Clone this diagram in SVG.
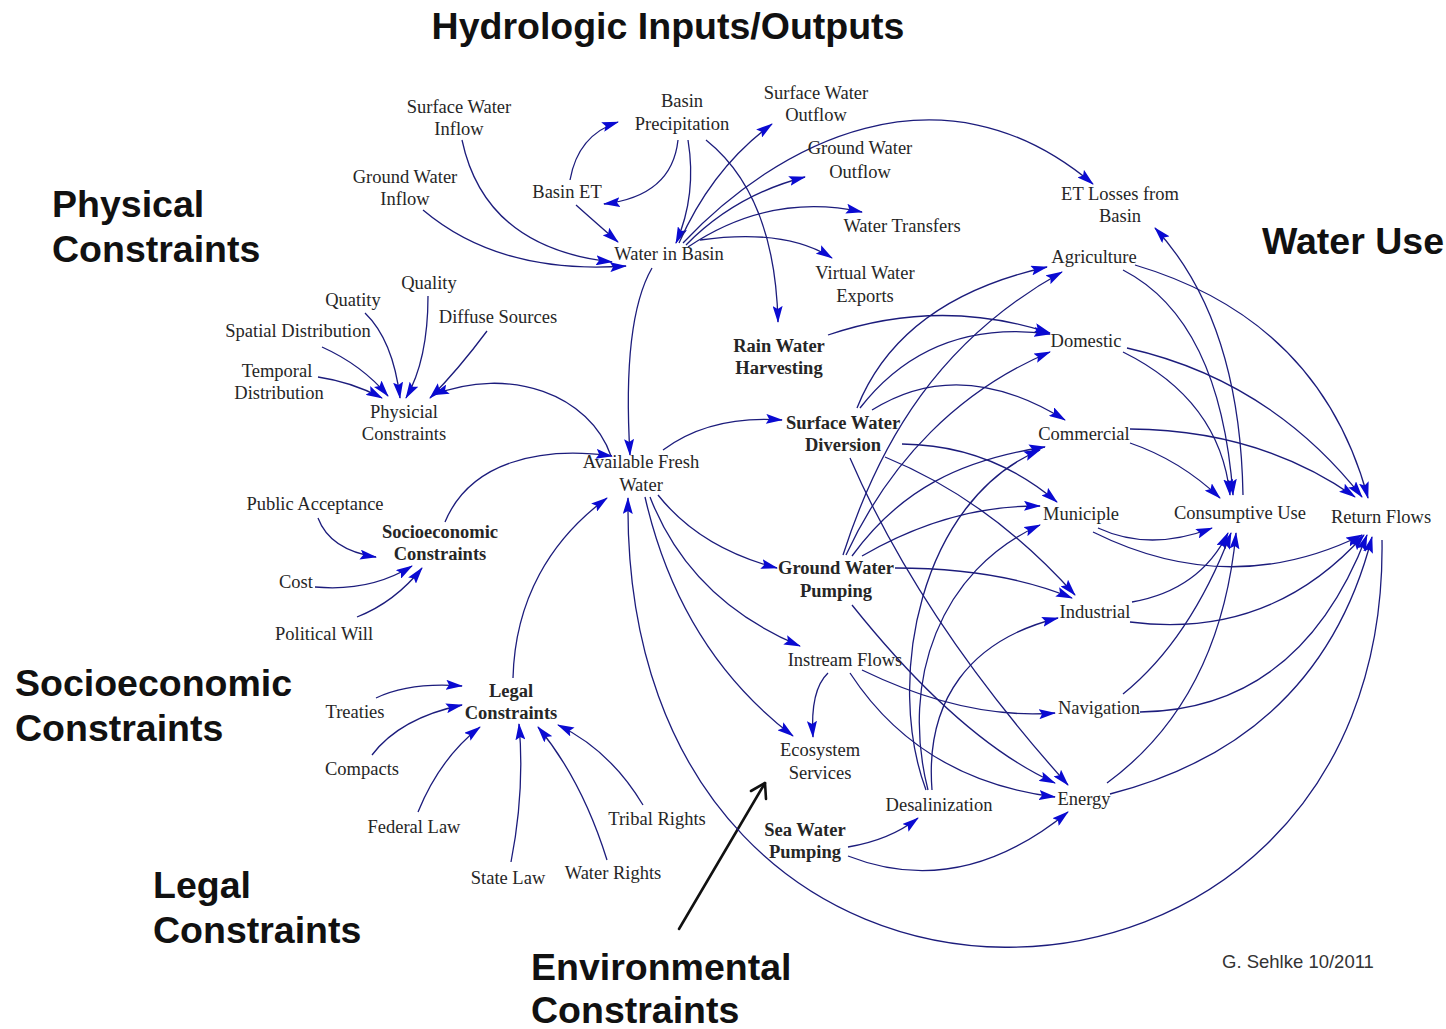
<svg xmlns="http://www.w3.org/2000/svg" width="1446" height="1029" viewBox="0 0 1446 1029">
  <style>
    .lbl { font-family: "Liberation Serif", "Times New Roman", serif; font-size: 18.5px; fill: #262626; text-anchor: middle; }
    .b { font-weight: bold; }
    .sec { font-family: "Liberation Sans", Arial, sans-serif; font-size: 37.5px; font-weight: bold; fill: #111; }
    .credit { font-family: "Liberation Sans", Arial, sans-serif; font-size: 18.5px; fill: #333; }
    .lk { fill: none; stroke: #1c1c7c; stroke-width: 1.3; marker-end: url(#ah); }
  </style>
  <defs>
    <marker id="ah" viewBox="0 0 17 10" refX="16" refY="5" markerWidth="17" markerHeight="10" markerUnits="userSpaceOnUse" orient="auto">
      <path d="M0,0 L17,5 L0,10 L3,5 z" fill="#0a0ad2"/>
    </marker>
  </defs>
  <rect width="1446" height="1029" fill="#ffffff"/>

  <!-- section headings -->
  <g id="headings">
    <text class="sec" x="668" y="39" text-anchor="middle">Hydrologic Inputs/Outputs</text>
    <text class="sec" x="52" y="217">Physical</text>
    <text class="sec" x="52" y="262">Constraints</text>
    <text class="sec" x="1262" y="254">Water Use</text>
    <text class="sec" x="15" y="696">Socioeconomic</text>
    <text class="sec" x="15" y="741">Constraints</text>
    <text class="sec" x="153" y="898">Legal</text>
    <text class="sec" x="153" y="943">Constraints</text>
    <text class="sec" x="531" y="980">Environmental</text>
    <text class="sec" x="531" y="1023">Constraints</text>
    <text class="credit" x="1222" y="968">G. Sehlke 10/2011</text>
  </g>

  <!-- pointer to the environmental nodes -->
  <g id="env-pointer" stroke="#111" stroke-width="2.6" fill="none" stroke-linecap="round" stroke-linejoin="round">
    <line x1="679" y1="929" x2="765" y2="783"/>
    <polyline points="751,791 765,783 766,799"/>
  </g>

  <g id="connectors">
    <!-- hydrologic inputs / outputs -->
    <path class="lk" d="M462,140 Q485,248 612,262"/>
    <path class="lk" d="M423,210 Q500,275 626,266"/>
    <path class="lk" d="M570,180 Q578,135 618,122"/>
    <path class="lk" d="M678,140 Q672,196 604,204"/>
    <path class="lk" d="M576,205 Q595,222 618,242"/>
    <path class="lk" d="M688,140 Q697,195 676,243"/>
    <path class="lk" d="M706,140 Q775,195 778,322"/>
    <path class="lk" d="M679,243 Q712,168 772,124"/>
    <path class="lk" d="M683,243 C775,145 940,55 1093,184"/>
    <path class="lk" d="M686,245 Q735,195 805,177"/>
    <path class="lk" d="M688,247 Q770,192 862,212"/>
    <path class="lk" d="M700,240 Q785,228 832,258"/>
    <path class="lk" d="M652,268 Q622,320 630,455"/>
    <!-- physical constraints -->
    <path class="lk" d="M365,313 Q393,340 400,398"/>
    <path class="lk" d="M428,296 Q428,360 406,398"/>
    <path class="lk" d="M322,347 Q362,365 388,396"/>
    <path class="lk" d="M318,377 Q352,382 382,398"/>
    <path class="lk" d="M487,331 Q458,370 430,398"/>
    <path class="lk" d="M611,456 C590,395 510,365 433,395"/>
    <!-- socioeconomic constraints -->
    <path class="lk" d="M445,522 C470,462 540,446 612,456"/>
    <path class="lk" d="M318,518 Q330,550 376,557"/>
    <path class="lk" d="M315,587 Q370,592 412,566"/>
    <path class="lk" d="M357,617 Q395,602 422,568"/>
    <!-- legal constraints -->
    <path class="lk" d="M513,678 C515,600 550,540 607,498"/>
    <path class="lk" d="M376,698 Q410,682 462,686"/>
    <path class="lk" d="M372,755 Q400,718 462,705"/>
    <path class="lk" d="M418,812 Q440,758 480,727"/>
    <path class="lk" d="M511,862 Q525,790 519,724"/>
    <path class="lk" d="M607,860 Q582,780 538,727"/>
    <path class="lk" d="M643,805 Q610,750 558,725"/>
    <!-- available fresh water -->
    <path class="lk" d="M663,450 Q710,415 782,420"/>
    <path class="lk" d="M658,495 Q700,548 777,568"/>
    <path class="lk" d="M650,497 Q690,600 800,646"/>
    <path class="lk" d="M645,497 Q680,650 793,736"/>
    <path class="lk" d="M1382,540 C1390,1075 620,1105 628,498"/>
    <!-- rain water harvesting -->
    <path class="lk" d="M828,335 Q940,297 1050,333"/>
    <!-- surface water diversion -->
    <path class="lk" d="M857,408 Q900,300 1047,267"/>
    <path class="lk" d="M860,408 Q930,318 1050,334"/>
    <path class="lk" d="M872,410 Q960,355 1065,420"/>
    <path class="lk" d="M902,444 Q990,445 1057,502"/>
    <path class="lk" d="M885,457 Q990,500 1075,595"/>
    <path class="lk" d="M850,458 Q920,620 1068,785"/>
    <!-- ground water pumping -->
    <path class="lk" d="M843,555 C880,440 940,340 1062,272"/>
    <path class="lk" d="M846,555 C890,460 960,390 1050,352"/>
    <path class="lk" d="M852,556 C900,490 960,460 1045,447"/>
    <path class="lk" d="M862,556 Q950,505 1040,506"/>
    <path class="lk" d="M895,568 Q1000,568 1072,598"/>
    <path class="lk" d="M852,605 Q960,740 1055,783"/>
    <!-- desalinization -->
    <path class="lk" d="M926,790 C885,680 920,500 1040,450"/>
    <path class="lk" d="M928,790 C900,680 940,570 1040,525"/>
    <path class="lk" d="M932,790 C925,700 970,640 1058,618"/>
    <!-- instream flows -->
    <path class="lk" d="M828,673 Q810,690 813,737"/>
    <path class="lk" d="M862,670 Q965,720 1055,713"/>
    <path class="lk" d="M850,673 Q920,780 1055,797"/>
    <!-- sea water pumping -->
    <path class="lk" d="M848,847 Q890,840 918,818"/>
    <path class="lk" d="M848,856 Q960,900 1068,812"/>
    <!-- water uses to consumptive use / return flows -->
    <path class="lk" d="M1123,270 Q1220,320 1233,495"/>
    <path class="lk" d="M1135,265 Q1320,320 1368,498"/>
    <path class="lk" d="M1123,352 Q1220,400 1230,495"/>
    <path class="lk" d="M1127,348 Q1270,380 1362,497"/>
    <path class="lk" d="M1130,443 Q1180,460 1220,498"/>
    <path class="lk" d="M1130,429 Q1260,430 1355,497"/>
    <path class="lk" d="M1243,495 Q1240,320 1155,228"/>
    <path class="lk" d="M1098,528 Q1150,552 1212,528"/>
    <path class="lk" d="M1093,532 Q1230,600 1362,535"/>
    <path class="lk" d="M1132,602 Q1200,590 1228,533"/>
    <path class="lk" d="M1130,622 Q1270,640 1364,535"/>
    <path class="lk" d="M1123,694 Q1190,640 1231,533"/>
    <path class="lk" d="M1140,712 Q1300,710 1367,535"/>
    <path class="lk" d="M1107,783 Q1220,700 1236,533"/>
    <path class="lk" d="M1110,794 Q1320,740 1372,537"/>
  </g>

  <!-- hydrologic nodes -->
  <g id="n-sw-inflow"><text class="lbl" x="459" y="113">Surface Water</text><text class="lbl" x="459" y="135">Inflow</text></g>
  <g id="n-basin-precip"><text class="lbl" x="682" y="107">Basin</text><text class="lbl" x="682" y="130">Precipitation</text></g>
  <g id="n-sw-outflow"><text class="lbl" x="816" y="99">Surface Water</text><text class="lbl" x="816" y="121">Outflow</text></g>
  <g id="n-gw-outflow"><text class="lbl" x="860" y="154">Ground Water</text><text class="lbl" x="860" y="178">Outflow</text></g>
  <g id="n-gw-inflow"><text class="lbl" x="405" y="183">Ground Water</text><text class="lbl" x="405" y="205">Inflow</text></g>
  <g id="n-basin-et"><text class="lbl" x="567" y="198">Basin ET</text></g>
  <g id="n-et-losses"><text class="lbl" x="1120" y="200">ET Losses from</text><text class="lbl" x="1120" y="222">Basin</text></g>
  <g id="n-water-transfers"><text class="lbl" x="902" y="232">Water Transfers</text></g>
  <g id="n-water-in-basin"><text class="lbl" x="669" y="260">Water in Basin</text></g>
  <g id="n-virtual-water"><text class="lbl" x="865" y="279">Virtual Water</text><text class="lbl" x="865" y="302">Exports</text></g>

  <!-- physical constraint nodes -->
  <g id="n-quality"><text class="lbl" x="429" y="289">Quality</text></g>
  <g id="n-quatity"><text class="lbl" x="353" y="306">Quatity</text></g>
  <g id="n-diffuse"><text class="lbl" x="498" y="323">Diffuse Sources</text></g>
  <g id="n-spatial"><text class="lbl" x="298" y="337">Spatial Distribution</text></g>
  <g id="n-temporal"><text class="lbl" x="277" y="377">Temporal</text><text class="lbl" x="279" y="399">Distribution</text></g>
  <g id="n-physicial"><text class="lbl" x="404" y="418">Physicial</text><text class="lbl" x="404" y="440">Constraints</text></g>

  <!-- supply nodes -->
  <g id="n-rwh"><text class="lbl b" x="779" y="352">Rain Water</text><text class="lbl b" x="779" y="374">Harvesting</text></g>
  <g id="n-swd"><text class="lbl b" x="843" y="429">Surface Water</text><text class="lbl b" x="843" y="451">Diversion</text></g>
  <g id="n-afw"><text class="lbl" x="641" y="468">Available Fresh</text><text class="lbl" x="641" y="491">Water</text></g>
  <g id="n-gwp"><text class="lbl b" x="836" y="574">Ground Water</text><text class="lbl b" x="836" y="597">Pumping</text></g>
  <g id="n-instream"><text class="lbl" x="845" y="666">Instream Flows</text></g>
  <g id="n-ecosystem"><text class="lbl" x="820" y="756">Ecosystem</text><text class="lbl" x="820" y="779">Services</text></g>
  <g id="n-desal"><text class="lbl" x="939" y="811">Desalinization</text></g>
  <g id="n-swp"><text class="lbl b" x="805" y="836">Sea Water</text><text class="lbl b" x="805" y="858">Pumping</text></g>

  <!-- socioeconomic nodes -->
  <g id="n-public"><text class="lbl" x="315" y="510">Public Acceptance</text></g>
  <g id="n-socio"><text class="lbl b" x="440" y="538">Socioeconomic</text><text class="lbl b" x="440" y="560">Constraints</text></g>
  <g id="n-cost"><text class="lbl" x="296" y="588">Cost</text></g>
  <g id="n-political"><text class="lbl" x="324" y="640">Political Will</text></g>

  <!-- legal nodes -->
  <g id="n-legal"><text class="lbl b" x="511" y="697">Legal</text><text class="lbl b" x="511" y="719">Constraints</text></g>
  <g id="n-treaties"><text class="lbl" x="355" y="718">Treaties</text></g>
  <g id="n-compacts"><text class="lbl" x="362" y="775">Compacts</text></g>
  <g id="n-tribal"><text class="lbl" x="657" y="825">Tribal Rights</text></g>
  <g id="n-federal"><text class="lbl" x="414" y="833">Federal Law</text></g>
  <g id="n-water-rights"><text class="lbl" x="613" y="879">Water Rights</text></g>
  <g id="n-state-law"><text class="lbl" x="508" y="884">State Law</text></g>

  <!-- water use nodes -->
  <g id="n-agriculture"><text class="lbl" x="1094" y="263">Agriculture</text></g>
  <g id="n-domestic"><text class="lbl" x="1086" y="347">Domestic</text></g>
  <g id="n-commercial"><text class="lbl" x="1084" y="440">Commercial</text></g>
  <g id="n-municiple"><text class="lbl" x="1081" y="520">Municiple</text></g>
  <g id="n-consumptive"><text class="lbl" x="1240" y="519">Consumptive Use</text></g>
  <g id="n-return"><text class="lbl" x="1381" y="523">Return Flows</text></g>
  <g id="n-industrial"><text class="lbl" x="1095" y="618">Industrial</text></g>
  <g id="n-navigation"><text class="lbl" x="1099" y="714">Navigation</text></g>
  <g id="n-energy"><text class="lbl" x="1084" y="805">Energy</text></g>
</svg>
